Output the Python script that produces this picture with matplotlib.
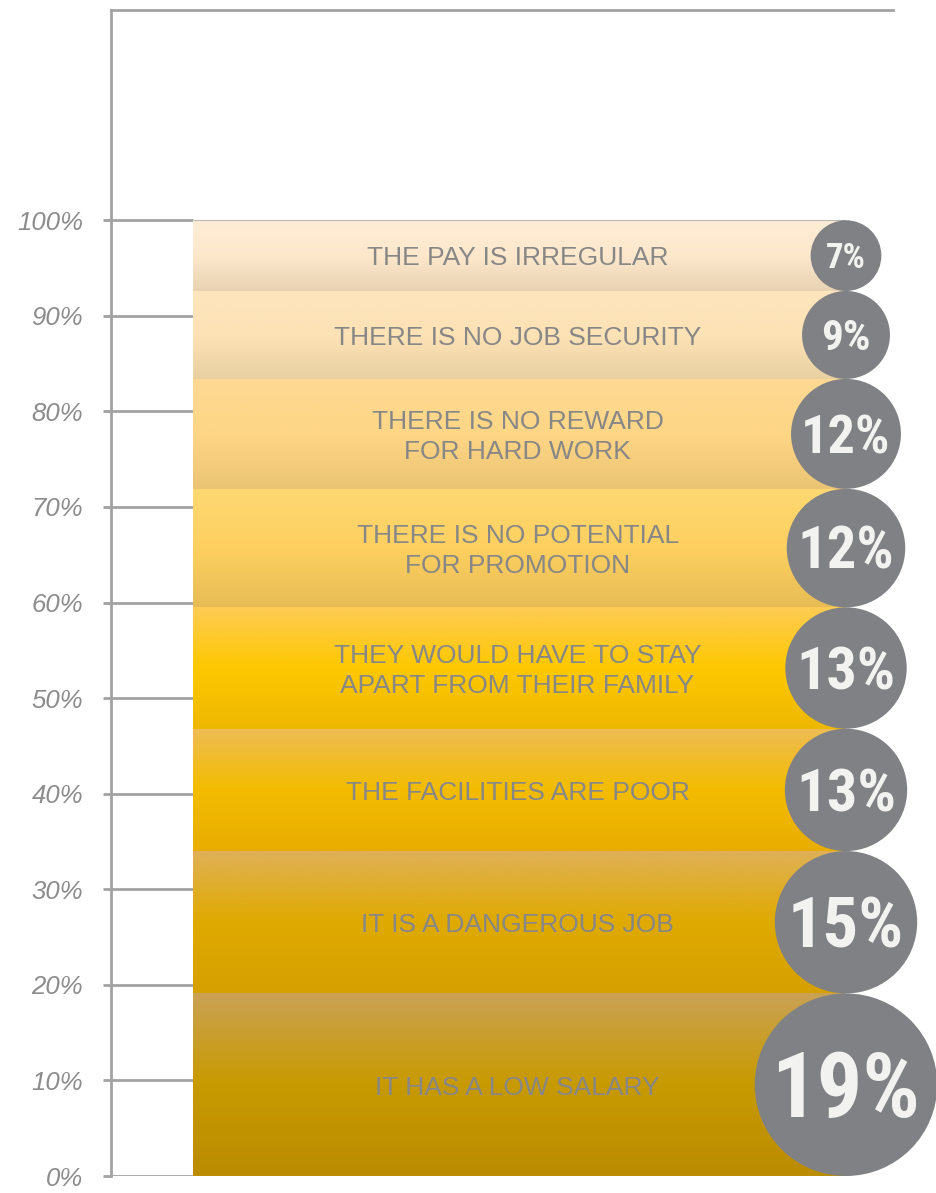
import numpy as np
import matplotlib.pyplot as plt
from matplotlib.colors import to_rgb
from matplotlib.patches import Circle

# segments, bottom to top
reasons = [
    'IT HAS A LOW SALARY',
    'IT IS A DANGEROUS JOB',
    'THE FACILITIES ARE POOR',
    'THEY WOULD HAVE TO STAY\nAPART FROM THEIR FAMILY',
    'THERE IS NO POTENTIAL\nFOR PROMOTION',
    'THERE IS NO REWARD\nFOR HARD WORK',
    'THERE IS NO JOB SECURITY',
    'THE PAY IS IRREGULAR',
]
shares = [19.1, 14.9, 12.8, 12.7, 12.4, 11.5, 9.2, 7.4]
shown = [19, 15, 13, 13, 12, 12, 9, 7]
yticks = list(range(0, 101, 10))

# gradient stops per segment: top, middle, bottom
grad = [
    ('#caa254', '#c89a00', '#bb8b00'),
    ('#dfb158', '#dfaa00', '#d6a000'),
    ('#eebd55', '#f3bc00', '#e8ad00'),
    ('#fecc55', '#fec800', '#edb800'),
    ('#fed872', '#fdd060', '#e7bc55'),
    ('#fed993', '#fed685', '#ebc473'),
    ('#fde5bd', '#fde2b5', '#e8d0a2'),
    ('#feedd6', '#fde8cc', '#e8d2b3'),
]

W, H, DPI = 936, 1193, 100
ax_l, ax_r, ax_t, ax_b = 111, 893, 10, 1176   # pixels
fig = plt.figure(figsize=(W / DPI, H / DPI), dpi=DPI)
ax = fig.add_axes([ax_l / W, (H - ax_b) / H, (ax_r - ax_l) / W, (ax_b - ax_t) / H])

ymax = 122.0
ppu = (ax_b - ax_t) / ymax          # pixels per unit
xmax = (ax_r - ax_l) / ppu
ax.set_ylim(0, ymax)
ax.set_xlim(0, xmax)

gray = '#a2a2a2'
bar_x0 = (193 - ax_l) / ppu
bar_x1 = (846 - ax_l) / ppu
bar_xc = (bar_x0 + bar_x1) / 2

def ramp(stops, n=200):
    top, mid, bot = [np.array(to_rgb(c)) for c in stops]
    t = np.linspace(0, 1, n)[:, None]
    upper = top + (mid - top) * np.clip(t / 0.5, 0, 1)
    lower = mid + (bot - mid) * np.clip((t - 0.5) / 0.5, 0, 1)
    img = np.where(t < 0.5, upper, lower)
    return img[:, None, :]

circle_font = ['Roboto Condensed', 'Noto Sans Condensed', 'Liberation Sans Narrow',
               'Liberation Sans', 'DejaVu Sans']

bottom = 0.0
for i, (lab, v, s) in enumerate(zip(reasons, shares, shown)):
    top = bottom + v
    ax.imshow(ramp(grad[i]), extent=[bar_x0, bar_x1, bottom, top],
              aspect='auto', interpolation='bilinear', zorder=2)
    yc = (bottom + top) / 2
    ax.text(bar_xc - 0.2, yc - 0.3, lab, ha='center', va='center', fontsize=19,
            color='#878787', family='Liberation Sans', linespacing=1.33, zorder=3)
    ax.add_patch(Circle((bar_x1, yc), v / 2, facecolor='#808184',
                        edgecolor='none', zorder=4, clip_on=False))
    fs = 3.4 * v
    cap = 0.711 * fs * DPI / 72 / ppu
    ax.text(bar_x1, yc - cap / 2, f'{s}%', ha='center', va='baseline',
            fontsize=fs, color='#f2f2f0', fontweight='bold',
            family=circle_font, zorder=5, clip_on=False)
    bottom = top

# gridlines from axis to bar
ax.hlines(yticks, 0, bar_x0, color=gray, lw=2, zorder=1)
ax.hlines([0, 100], bar_x0, bar_x1, color='#b8b8b8', lw=0.8, zorder=2.5)

for side in ['right', 'bottom']:
    ax.spines[side].set_visible(False)
for side in ['left', 'top']:
    ax.spines[side].set_color(gray)
    ax.spines[side].set_linewidth(2)

ax.set_xticks([])
ax.set_yticks(yticks)
ax.set_yticklabels([f'{t}%' for t in yticks], fontsize=18.5, style='italic',
                   color='#8c8c8c', family='Liberation Sans')
ax.tick_params(axis='y', length=6, width=2, color=gray, pad=14)
ax.set_facecolor('none')

fig.savefig('out.png', dpi=DPI)
